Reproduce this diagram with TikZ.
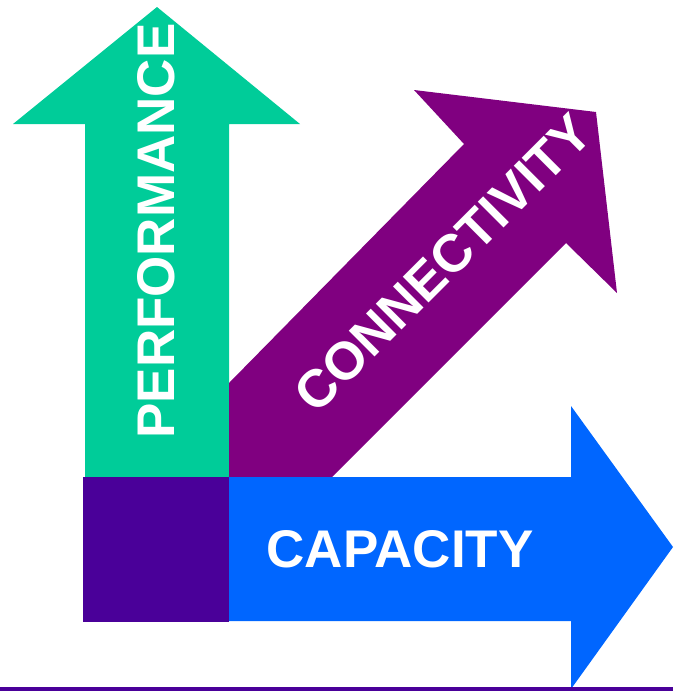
\documentclass[tikz,border=0pt]{standalone}
\usepackage{fontspec}
\setmainfont{Liberation Sans}
\definecolor{perfgreen}{HTML}{00CC99}
\definecolor{connpurple}{HTML}{800080}
\definecolor{capblue}{HTML}{0066FF}
\definecolor{baseindigo}{HTML}{4A0099}
\tikzset{
    label text/.style={text=white,inner sep=0pt,font=\bfseries\fontsize{53}{53}\selectfont},
}
\begin{document}
\begin{tikzpicture}[x=1pt,y=-1pt]
    \useasboundingbox (0,0) rectangle (673,691);

    % Arrows
    \fill[perfgreen] (85,477) -- (85,124) -- (13,124) -- (157,7) -- (300,124) -- (229,124) -- (229,477) -- cycle;
    \fill[connpurple] (229,383) -- (464,144) -- (414,90) -- (596,112) -- (617,293) -- (566,243) -- (332,477) -- (229,477) -- cycle;
    \fill[capblue] (229,477) -- (571,477) -- (571,406) -- (673,547) -- (571,689) -- (571,621) -- (229,621) -- cycle;
    \fill[baseindigo] (83,477) rectangle (229,622);
    \fill[baseindigo] (0,687) rectangle (673,691);

    % Labels
    \node[label text,rotate=90] (Perf) at (156,231) {PERFORMANCE};
    \node[label text,rotate=45] (Conn) at (443,263) {CONNECTIVITY};
    \node[label text] (Cap) at (400,549) {CAPACITY};
\end{tikzpicture}
\end{document}
